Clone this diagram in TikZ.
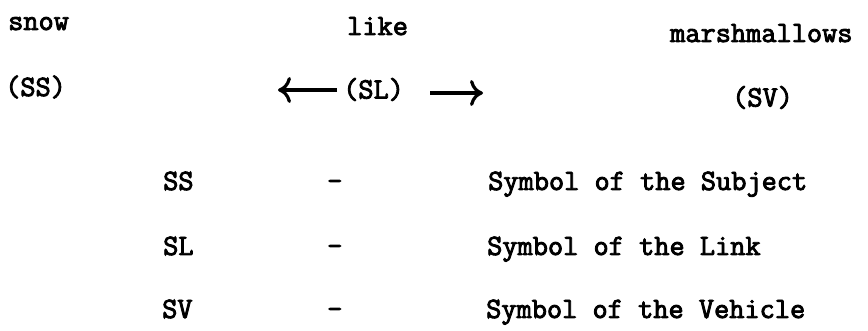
\documentclass[tikz,border=0pt]{standalone}
\usepackage{fontspec}
\setmonofont{Latin Modern Mono}[AutoFakeBold=3]
\usetikzlibrary{arrows.meta}
\tikzset{
  word/.style={inner sep=0pt, anchor=base west, font=\ttfamily\bfseries\fontsize{29.5}{34}\selectfont},
  arr/.style={line width=3.6pt, -{Computer Modern Rightarrow[length=13pt, width=26pt, line width=3.2pt]}},
}
\begin{document}
\begin{tikzpicture}[x=1pt, y=1pt]
  \useasboundingbox (0,0) rectangle (868,331);
  % top line: the sentence
  \node[word] (snow) at (8,301) {snow};
  \node[word] (like) at (347,296) {like};
  \node[word] (marsh) at (670,289) {marshmallows};
  % second line: the symbols
  \node[word] (ss) at (5,235) {(SS)};
  \node[word] (sl) at (343,232.5) {(SL)};
  \node[word] (sv) at (732,224.5) {(SV)};
  \coordinate (ltail) at (337,241);
  \coordinate (lhead) at (278,241);
  \coordinate (rtail) at (430,238);
  \coordinate (rhead) at (483,238);
  \draw[arr] (ltail) -- (lhead);
  \draw[arr] (rtail) -- (rhead);
  % key
  \node[word] (kss) at (163,141) {SS};
  \node[word] (dss) at (327,141) {-};
  \node[word] (tss) at (488,141) {Symbol of the Subject};
  \node[word] (ksl) at (163,76) {SL};
  \node[word] (dsl) at (327,76) {-};
  \node[word] (tsl) at (487,76) {Symbol of the Link};
  \node[word] (ksv) at (162,13) {SV};
  \node[word] (dsv) at (327,13) {-};
  \node[word] (tsv) at (486,13) {Symbol of the Vehicle};
\end{tikzpicture}
\end{document}
